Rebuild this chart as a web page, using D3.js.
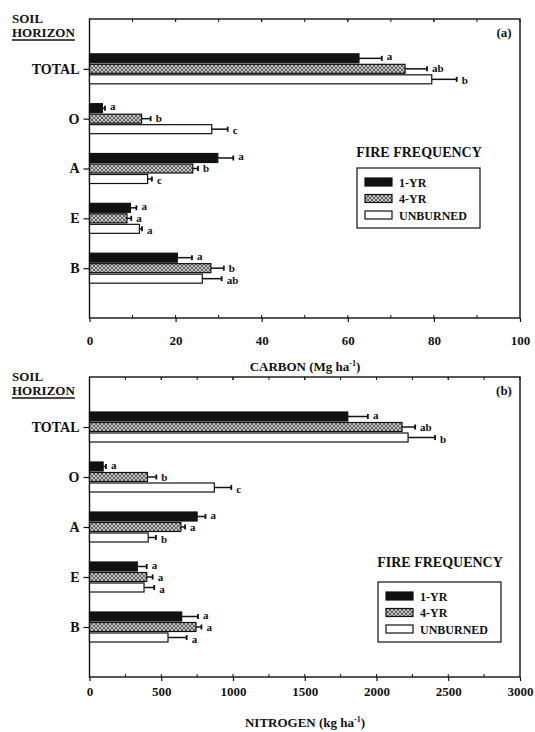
<!DOCTYPE html>
<html lang="en">
<head>
<meta charset="UTF-8">
<title>Soil C and N by horizon</title>
<script src="https://d3js.org/d3.v7.min.js"></script>
<style>
  body { margin: 0; background: #fff; }
  text { font-family: "Liberation Serif", "Times New Roman", serif; font-weight: bold; fill: #111; }
</style>
</head>
<body>
<svg id="chart" width="535" height="732"></svg>
<script>
  // categories
  var horizons = ["TOTAL", "O", "A", "E", "B"];
  var treatments = ["1-YR", "4-YR", "UNBURNED"];

  // carbon (Mg ha-1), means and error bar ends
  var carbon1yr = [62.6, 3.0, 29.8, 9.5, 20.4];
  var carbon4yr = [73.3, 12.1, 24.0, 8.7, 28.2];
  var carbonUnb = [79.5, 28.4, 13.5, 11.6, 26.2];
  var carbonErr1yr = [5.3, 0.6, 3.6, 1.4, 3.4];
  var carbonErr4yr = [5.1, 2.1, 1.2, 1.0, 3.0];
  var carbonErrUnb = [5.8, 3.7, 1.0, 0.6, 4.5];
  var carbonLetters1yr = ["a", "a", "a", "a", "a"];
  var carbonLetters4yr = ["ab", "b", "b", "a", "b"];
  var carbonLettersUnb = ["b", "c", "c", "a", "ab"];

  // nitrogen (kg ha-1)
  var nitrogen1yr = [1800, 95, 750, 333, 642];
  var nitrogen4yr = [2178, 404, 637, 399, 742];
  var nitrogenUnb = [2220, 870, 409, 380, 547];
  var nitrogenErr1yr = [140, 20, 58, 66, 114];
  var nitrogenErr4yr = [91, 62, 29, 41, 38];
  var nitrogenErrUnb = [188, 118, 54, 71, 130];
  var nitrogenLetters1yr = ["a", "a", "a", "a", "a"];
  var nitrogenLetters4yr = ["ab", "b", "a", "a", "a"];
  var nitrogenLettersUnb = ["b", "c", "b", "a", "a"];

  var carbonTicks = [0, 20, 40, 60, 80, 100];
  var nitrogenTicks = [0, 500, 1000, 1500, 2000, 2500, 3000];

  var svg = d3.select("#chart");

  // stippled grey fill for the 4-yr bars
  var defs = svg.append("defs");
  var pat = defs.append("pattern")
    .attr("id", "stipple")
    .attr("patternUnits", "userSpaceOnUse")
    .attr("width", 4).attr("height", 4);
  pat.append("rect").attr("width", 4).attr("height", 4).attr("fill", "#c4c4c4");
  pat.append("path").attr("d", "M0,0L4,4M4,0L0,4")
    .attr("stroke", "#4a4a4a").attr("stroke-width", 0.8);

  var fills = ["#111", "url(#stipple)", "#fff"];

  function drawPanel(p) {
    var g = svg.append("g");

    var x = d3.scaleLinear().domain(p.domain).range([89.5, 520]);
    var y = d3.scalePoint().domain(horizons).range([p.top, p.bottom]).padding(1);

    // frame
    g.append("rect")
      .attr("x", x(p.domain[0])).attr("y", p.top)
      .attr("width", x(p.domain[1]) - x(p.domain[0]))
      .attr("height", p.bottom - p.top)
      .attr("fill", "none").attr("stroke", "#111").attr("stroke-width", 1.4);

    // bottom axis: major ticks outward, minor ticks inward
    var ax = g.append("g").attr("transform", "translate(0," + p.bottom + ")")
      .call(d3.axisBottom(x).tickValues(p.ticks).tickFormat(d3.format("d"))
        .tickSize(4).tickPadding(p.labelGap));
    ax.select(".domain").remove();
    ax.selectAll("line").attr("stroke", "#111").attr("stroke-width", 1.2);
    ax.selectAll("text").style("font-size", "13px").attr("fill", "#111");

    var minor = d3.range(p.domain[0], p.domain[1], p.minor).slice(1);
    g.selectAll(".minb").data(minor).enter().append("line")
      .attr("x1", d => x(d)).attr("x2", d => x(d))
      .attr("y1", p.bottom).attr("y2", p.bottom - 3)
      .attr("stroke", "#111").attr("stroke-width", 1);
    g.selectAll(".mint").data(minor.concat(p.ticks)).enter().append("line")
      .attr("x1", d => x(d)).attr("x2", d => x(d))
      .attr("y1", p.top).attr("y2", p.top + 3)
      .attr("stroke", "#111").attr("stroke-width", 1);

    // left axis with horizon names
    var ay = g.append("g").attr("transform", "translate(" + x(p.domain[0]) + ",0)")
      .call(d3.axisLeft(y).tickSize(6).tickPadding(4));
    ay.select(".domain").remove();
    ay.selectAll("line").attr("stroke", "#111").attr("stroke-width", 1.2);
    ay.selectAll("text").style("font-size", "14px").attr("fill", "#111");

    // axis title
    var t = g.append("text").attr("x", 305).attr("y", p.titleY)
      .attr("text-anchor", "middle").style("font-size", "13px");
    t.append("tspan").text(p.title + " (" + p.unit + " ha");
    t.append("tspan").attr("dy", -5).style("font-size", "8px").text("-1");
    t.append("tspan").attr("dy", 5).text(")");

    // SOIL HORIZON header and panel tag
    g.append("text").attr("x", 12).attr("y", p.top + 4).style("font-size", "13px").text("SOIL");
    var hz = g.append("text").attr("x", 12).attr("y", p.top + 18).style("font-size", "13px").text("HORIZON");
    var hw = hz.node().getComputedTextLength();
    g.append("line").attr("x1", 12).attr("x2", 12 + hw)
      .attr("y1", p.top + 21).attr("y2", p.top + 21)
      .attr("stroke", "#111").attr("stroke-width", 1.3);
    g.append("text").attr("x", 504).attr("y", p.top + 18)
      .attr("text-anchor", "middle").style("font-size", "13px").text(p.tag);

    // bars
    var offsets = [-10.5, 0, 10.5];
    var letterShift = [-1.5, 0, 1.5];
    var barH = 9;
    p.series.forEach(function (s, si) {
      var rows = horizons.map(function (h, i) {
        return { h: h, v: s.values[i], e: s.errs[i], l: s.letters[i] };
      });
      var sg = g.append("g");
      sg.selectAll("rect").data(rows).enter().append("rect")
        .attr("x", x(0))
        .attr("y", d => y(d.h) + offsets[si] - barH / 2)
        .attr("width", d => x(d.v) - x(0))
        .attr("height", barH)
        .attr("fill", fills[si])
        .attr("stroke", "#111").attr("stroke-width", 1.2);
      sg.selectAll(".err").data(rows).enter().append("line")
        .attr("x1", d => x(d.v)).attr("x2", d => x(d.v + d.e))
        .attr("y1", d => y(d.h) + offsets[si]).attr("y2", d => y(d.h) + offsets[si])
        .attr("stroke", "#111").attr("stroke-width", 1.5);
      sg.selectAll(".cap").data(rows).enter().append("line")
        .attr("x1", d => x(d.v + d.e)).attr("x2", d => x(d.v + d.e))
        .attr("y1", d => y(d.h) + offsets[si] - 2.5).attr("y2", d => y(d.h) + offsets[si] + 2.5)
        .attr("stroke", "#111").attr("stroke-width", 1.8);
      sg.selectAll("text").data(rows).enter().append("text")
        .attr("x", d => x(d.v + d.e) + 5)
        .attr("y", d => y(d.h) + offsets[si] + letterShift[si] + 3.5)
        .style("font-size", "11px")
        .text(d => d.l);
    });

    // legend
    var L = p.legend;
    g.append("text").attr("x", L.x + 62).attr("y", L.titleY)
      .attr("text-anchor", "middle").style("font-size", "14px").text("FIRE FREQUENCY");
    g.append("rect").attr("x", L.x).attr("y", L.y).attr("width", 123).attr("height", 60)
      .attr("fill", "none").attr("stroke", "#111").attr("stroke-width", 1.2);
    treatments.forEach(function (name, i) {
      var cy = L.y + 14 + i * 16.5;
      g.append("rect").attr("x", L.x + 8).attr("y", cy - 4).attr("width", 27).attr("height", 8)
        .attr("fill", fills[i]).attr("stroke", "#111").attr("stroke-width", 1.2);
      g.append("text").attr("x", L.x + 42).attr("y", cy + 4.5)
        .style("font-size", "12px").text(name);
    });
  }

  drawPanel({
    top: 19, bottom: 318, domain: [0, 100], ticks: carbonTicks, minor: 10, labelGap: 14,
    title: "CARBON", unit: "Mg", titleY: 371, tag: "(a)",
    legend: { x: 357, y: 168, titleY: 157 },
    series: [
      { values: carbon1yr, errs: carbonErr1yr, letters: carbonLetters1yr },
      { values: carbon4yr, errs: carbonErr4yr, letters: carbonLetters4yr },
      { values: carbonUnb, errs: carbonErrUnb, letters: carbonLettersUnb }
    ]
  });

  drawPanel({
    top: 377, bottom: 677, domain: [0, 3000], ticks: nitrogenTicks, minor: 250, labelGap: 6,
    title: "NITROGEN", unit: "kg", titleY: 727, tag: "(b)",
    legend: { x: 378, y: 582, titleY: 567 },
    series: [
      { values: nitrogen1yr, errs: nitrogenErr1yr, letters: nitrogenLetters1yr },
      { values: nitrogen4yr, errs: nitrogenErr4yr, letters: nitrogenLetters4yr },
      { values: nitrogenUnb, errs: nitrogenErrUnb, letters: nitrogenLettersUnb }
    ]
  });
</script>
</body>
</html>
